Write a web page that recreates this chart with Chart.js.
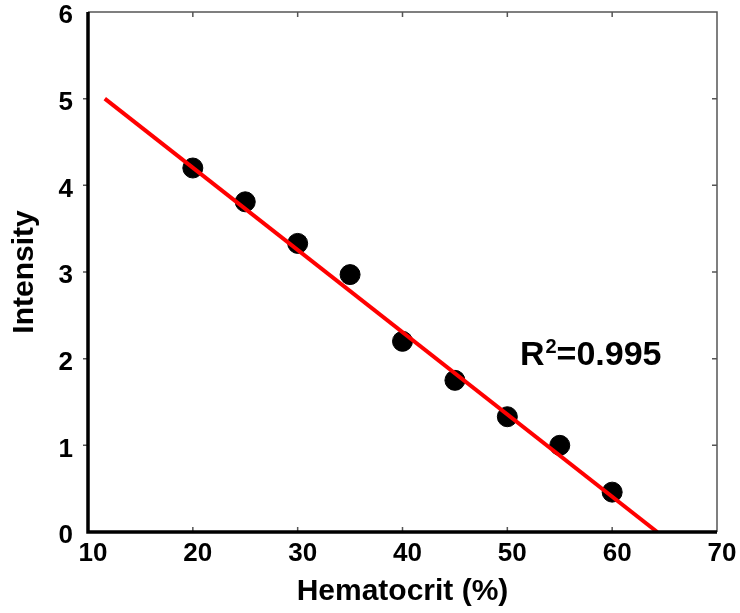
<!DOCTYPE html>
<html>
<head>
<meta charset="utf-8">
<script src="https://cdn.jsdelivr.net/npm/chart.js@4"></script>
<style>
  html, body { margin: 0; padding: 0; background: #fff; }
  #wrap { width: 740px; height: 613px; }
</style>
</head>
<body>
<div id="wrap"><canvas id="hctChart" width="740" height="613"></canvas></div>
<script>
// measured points
const hematocrit = [20, 25, 30, 35, 40, 45, 50, 55, 60];
const intensity = [4.2, 3.81, 3.33, 2.97, 2.2, 1.75, 1.33, 1.0, 0.46];
// linear fit end points
const fitX = [11.6, 64.3];
const fitY = [5.0, 0];
const xTicks = [10, 20, 30, 40, 50, 60, 70];
const yTicks = [0, 1, 2, 3, 4, 5, 6];
const r2Label = '0.995';

const FONT = "'Liberation Sans', Arial, sans-serif";

// frame, small ticks and R² note
const framePlugin = {
  id: 'frame',
  afterDraw(chart) {
    const ctx = chart.ctx;
    const a = chart.chartArea;
    const xs = chart.scales.x, ys = chart.scales.y;
    ctx.save();
    ctx.strokeStyle = '#555';
    ctx.lineWidth = 1.5;
    ctx.beginPath();
    ctx.moveTo(a.left, a.top); ctx.lineTo(a.right, a.top); ctx.lineTo(a.right, a.bottom);
    ctx.stroke();

    ctx.beginPath();
    xTicks.slice(1, -1).forEach(v => {
      const px = xs.getPixelForValue(v);
      ctx.moveTo(px, a.bottom); ctx.lineTo(px, a.bottom - 5);
      ctx.moveTo(px, a.top); ctx.lineTo(px, a.top + 5);
    });
    yTicks.slice(1, -1).forEach(v => {
      const py = ys.getPixelForValue(v);
      ctx.moveTo(a.left, py); ctx.lineTo(a.left - 5, py);
      ctx.moveTo(a.right, py); ctx.lineTo(a.right - 5, py);
    });
    ctx.stroke();

    ctx.strokeStyle = '#000';
    ctx.lineWidth = 3.5;
    ctx.beginPath();
    ctx.moveTo(a.left, a.top); ctx.lineTo(a.left, a.bottom); ctx.lineTo(a.right, a.bottom);
    ctx.stroke();

    // R² annotation
    const tx = xs.getPixelForValue(51.2);
    const ty = ys.getPixelForValue(1.93);
    ctx.fillStyle = '#000';
    ctx.textBaseline = 'alphabetic';
    ctx.textAlign = 'left';
    ctx.font = 'bold 34px ' + FONT;
    ctx.fillText('R', tx, ty);
    let w = ctx.measureText('R').width;
    ctx.font = 'bold 20px ' + FONT;
    ctx.fillText('2', tx + w + 1, ty - 12);
    w += ctx.measureText('2').width + 1;
    ctx.font = 'bold 34px ' + FONT;
    ctx.fillText('=' + r2Label, tx + w, ty);
    ctx.restore();
  }
};

const ctx = document.getElementById('hctChart').getContext('2d');
const hctChart = new Chart(ctx, {
  type: 'scatter',
  data: {
    datasets: [{
      label: 'Fit',
      data: fitX.map((x, i) => ({ x: x, y: fitY[i] })),
      showLine: true,
      borderColor: '#ff0000',
      borderWidth: 4,
      pointRadius: 0,
      order: 0
    }, {
      label: 'Intensity',
      data: hematocrit.map((x, i) => ({ x: x, y: intensity[i] })),
      backgroundColor: '#000',
      borderColor: '#000',
      pointRadius: 10,
      order: 1
    }]
  },
  options: {
    responsive: false,
    animation: false,
    layout: { padding: { top: 12, right: 23, left: 0, bottom: 0 } },
    plugins: { legend: { display: false }, tooltip: { enabled: false } },
    scales: {
      x: {
        type: 'linear',
        min: 10, max: 70,
        afterFit: s => { s.height = 81; s.paddingLeft = 0; s.paddingRight = 0; },
        afterBuildTicks: s => { s.ticks = xTicks.map(v => ({ value: v })); },
        grid: { display: false, drawTicks: false },
        border: { display: false },
        ticks: {
          color: '#000',
          padding: 6,
          labelOffset: 5,
          font: { family: FONT, size: 26, weight: 'bold' }
        },
        title: {
          display: true,
          text: 'Hematocrit (%)',
          color: '#000',
          padding: { top: 0, bottom: 3 },
          font: { family: FONT, size: 30, weight: 'bold' }
        }
      },
      y: {
        type: 'linear',
        min: 0, max: 6,
        afterFit: s => { s.width = 88; s.paddingTop = 0; s.paddingBottom = 0; },
        afterBuildTicks: s => { s.ticks = yTicks.map(v => ({ value: v })); },
        grid: { display: false, drawTicks: false },
        border: { display: false },
        ticks: {
          color: '#000',
          padding: 15,
          labelOffset: 4,
          font: { family: FONT, size: 26, weight: 'bold' }
        },
        title: {
          display: true,
          text: 'Intensity',
          color: '#000',
          padding: { top: 7, bottom: 0 },
          font: { family: FONT, size: 30, weight: 'bold' }
        }
      }
    }
  },
  plugins: [framePlugin]
});
</script>
</body>
</html>
